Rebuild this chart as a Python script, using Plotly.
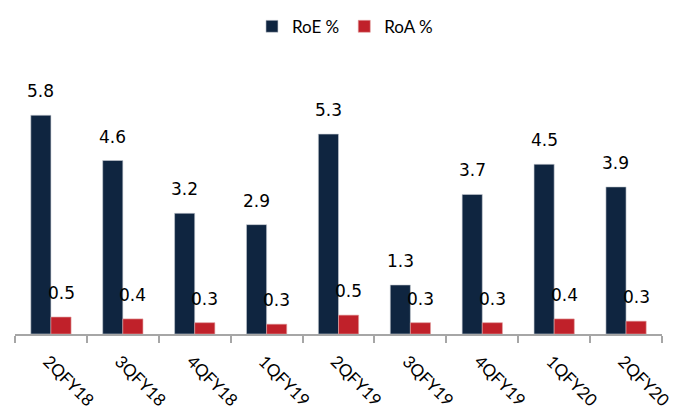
import plotly.graph_objects as go

# Dados
quarters = ["2QFY18", "3QFY18", "4QFY18", "1QFY19", "2QFY19",
            "3QFY19", "4QFY19", "1QFY20", "2QFY20"]
roe = [5.8, 4.6, 3.2, 2.9, 5.3, 1.3, 3.7, 4.5, 3.9]
roa = [0.45, 0.40, 0.30, 0.26, 0.50, 0.30, 0.30, 0.40, 0.34]
roe_labels = ["5.8", "4.6", "3.2", "2.9", "5.3", "1.3", "3.7", "4.5", "3.9"]
roa_labels = ["0.5", "0.4", "0.3", "0.3", "0.5", "0.3", "0.3", "0.4", "0.3"]

NAVY = "#0F2540"
RED = "#C0212A"
BAR_W = 0.28

fig = go.Figure()

fig.add_trace(
    go.Bar(
        x=quarters, y=roe, name="RoE %",
        width=BAR_W, offset=-BAR_W,
        marker=dict(color=NAVY, line=dict(color="#c8ccd4", width=0.6)),
    )
)
fig.add_trace(
    go.Bar(
        x=quarters, y=roa, name="RoA %",
        width=BAR_W, offset=0,
        marker=dict(color=RED, line=dict(color="#e0a0a0", width=0.6)),
    )
)

# Rótulos de dados (acima das barras)
annotations = []
for i in range(len(quarters)):
    annotations.append(dict(
        x=i - BAR_W / 2, y=roe[i], xref="x", yref="y", text=roe_labels[i],
        showarrow=False, yanchor="bottom", yshift=12,
        font=dict(family="DejaVu Sans", size=17, color="#000000"),
    ))
    annotations.append(dict(
        x=i + BAR_W / 2, y=roa[i], xref="x", yref="y", text=roa_labels[i],
        showarrow=False, yanchor="bottom", yshift=12,
        font=dict(family="DejaVu Sans", size=17, color="#000000"),
    ))

# a página tem margem de 8px no body, por isso a figura é um pouco menor
fig.update_layout(
    width=683,
    height=404,
    margin=dict(l=7, r=29, t=62, b=78, autoexpand=False),
    plot_bgcolor="white",
    paper_bgcolor="white",
    bargap=0.44,
    showlegend=True,
    legend=dict(
        orientation="h", x=0.51, xanchor="center", y=1.232, yanchor="top",
        font=dict(family="Lato", size=17, color="#000000"),
        itemwidth=30, traceorder="normal",
    ),
    annotations=annotations,
)

fig.update_xaxes(
    type="category",
    automargin=False,
    showline=True, linecolor="#a6a6a6", linewidth=1.5,
    ticks="outside", tickson="boundaries", ticklen=7, tickcolor="#a6a6a6",
    tickwidth=1.5,
    tickangle=45,
    ticklabelstandoff=9,
    ticklabelshift=-3,
    tickfont=dict(family="Lato", size=17, color="#000000"),
    showgrid=False,
)
fig.update_yaxes(range=[0, 7], visible=False, showgrid=False)

fig.write_html("out.html")
